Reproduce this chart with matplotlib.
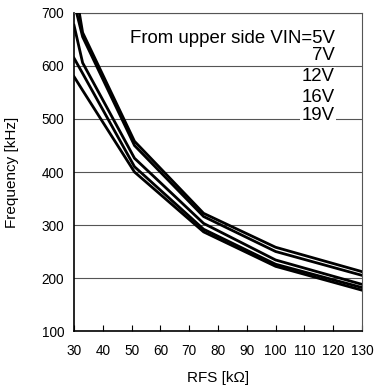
import matplotlib
matplotlib.use('Agg')
import matplotlib.pyplot as plt

plt.rcParams['font.family'] = ['Liberation Sans', 'DejaVu Sans']

# RFS [kOhm] and switching frequency [kHz] per input voltage
rfs = [30, 33, 51, 75, 100, 130]
f_5v = [760, 663, 458, 322, 258, 212]
f_7v = [720, 655, 450, 316, 250, 205]
f_12v = [677, 606, 426, 303, 234, 188]
f_16v = [615, 586, 410, 292, 226, 182]
f_19v = [580, 554, 400, 287, 222, 177]

x_ticks = [30, 40, 50, 60, 70, 80, 90, 100, 110, 120, 130]
y_ticks = [100, 200, 300, 400, 500, 600, 700]

fig = plt.figure(figsize=(3.85, 3.88), dpi=100)
ax = fig.add_axes([0.1922, 0.1469, 0.7481, 0.8196])

for f in [f_5v, f_7v, f_12v, f_16v, f_19v]:
    ax.plot(rfs, f, color='black', linewidth=2.0, solid_joinstyle='miter', zorder=3)

ax.set_xlim(30, 130)
ax.set_ylim(100, 700)
ax.set_xticks(x_ticks)
ax.set_yticks(y_ticks)
ax.grid(axis='y', color='#555555', linewidth=0.8)
ax.set_axisbelow(True)

ax.tick_params(axis='x', direction='in', length=4, width=0.8, pad=9, labelsize=9.8)
ax.tick_params(axis='y', length=0, pad=7, labelsize=9.8)

ax.spines['left'].set_linewidth(1.2)
ax.spines['bottom'].set_linewidth(1.2)
ax.spines['top'].set_color('#555555')
ax.spines['right'].set_color('#555555')
ax.spines['top'].set_linewidth(0.8)
ax.spines['right'].set_linewidth(0.8)

ax.set_xlabel('RFS [kΩ]', fontsize=11)
ax.set_ylabel('Frequency [kHz]', fontsize=11)
ax.xaxis.set_label_coords(0.5, -0.125)
ax.yaxis.set_label_coords(-0.19, 0.5)

labels = ['From upper side VIN=5V', '7V', '12V', '16V', '19V']
label_y = [652, 620, 580, 541, 506]
for t, yv in zip(labels, label_y):
    ax.text(0.905, yv, t, transform=ax.get_yaxis_transform(), ha='right', va='center',
            fontsize=13.4, zorder=4,
            bbox=dict(facecolor='white', edgecolor='none', pad=1.0))

fig.savefig('out.png', dpi=100)
